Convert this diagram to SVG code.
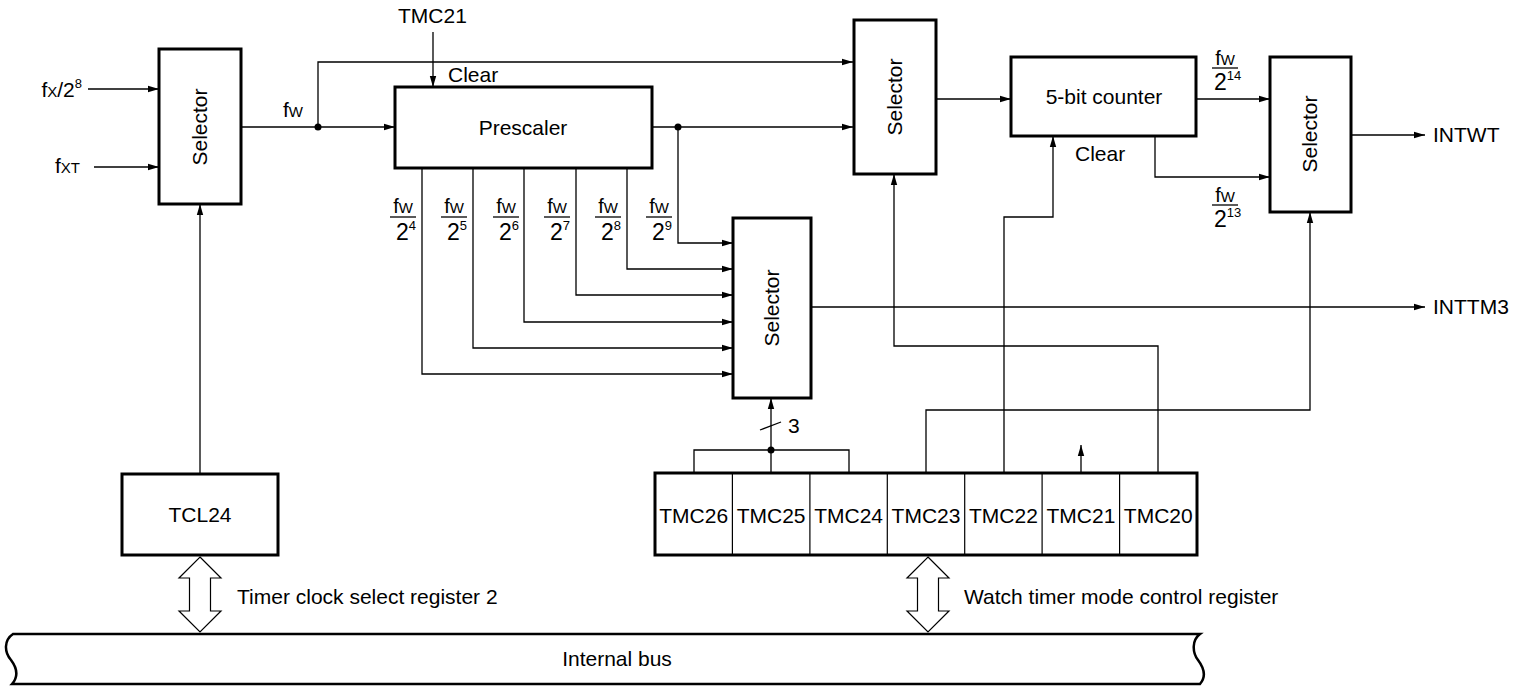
<svg xmlns="http://www.w3.org/2000/svg" width="1522" height="691" viewBox="0 0 1522 691">
<style>
text{font-family:"Liberation Sans",Arial,sans-serif;font-size:21px;fill:#000}
.box{fill:#fff;stroke:#000;stroke-width:3}
.cell{fill:none;stroke:#000;stroke-width:1.2}
.ln{fill:none;stroke:#000;stroke-width:1.3}
.arr{fill:none;stroke:#000;stroke-width:1.3;marker-end:url(#ah)}
.mid{text-anchor:middle}
.num{font-size:20px}
.den{font-size:23px}
.sup{font-size:13px}
.sm{font-size:15px}
.bar{stroke:#000;stroke-width:1.3}
</style>
<defs>
<marker id="ah" markerUnits="userSpaceOnUse" markerWidth="12" markerHeight="8" refX="11" refY="4" orient="auto">
<path d="M0,0.8 L11,4 L0,7.2 z" fill="#000"/>
</marker>
</defs>

<g id="connectors">
<line class="arr" x1="88" y1="89" x2="159" y2="89"/>
<line class="arr" x1="94" y1="167" x2="159" y2="167"/>
<line class="arr" x1="241" y1="127" x2="395" y2="127"/>
<polyline class="arr" points="318,127 318,62 853,62"/>
<line class="arr" x1="433" y1="32" x2="433" y2="87"/>
<line class="arr" x1="652" y1="127" x2="853" y2="127"/>
<polyline class="arr" points="678,127 678,243 733,243"/>
<polyline class="arr" points="627,168 627,269 733,269"/>
<polyline class="arr" points="576,168 576,295 733,295"/>
<polyline class="arr" points="524,168 524,322 733,322"/>
<polyline class="arr" points="473,168 473,348 733,348"/>
<polyline class="arr" points="422,168 422,374 733,374"/>
<line class="arr" x1="811" y1="307" x2="1425" y2="307"/>
<line class="arr" x1="936" y1="99" x2="1011" y2="99"/>
<line class="arr" x1="1196" y1="99" x2="1270" y2="99"/>
<polyline class="arr" points="1155,136 1155,177 1270,177"/>
<line class="arr" x1="1351" y1="135" x2="1425" y2="135"/>
<line class="arr" x1="200" y1="474" x2="200" y2="204"/>
<polyline class="ln" points="694,473 694,450 849,450 849,473"/>
<line class="ln" x1="771" y1="473" x2="771" y2="450"/>
<line class="arr" x1="771" y1="450" x2="771" y2="398"/>
<line class="ln" x1="760" y1="430" x2="781" y2="422"/>
<polyline class="arr" points="926,473 926,410 1310,410 1310,212"/>
<polyline class="arr" points="1004,473 1004,217 1053,217 1053,136"/>
<line class="arr" x1="1081" y1="473" x2="1081" y2="445"/>
<polyline class="arr" points="1158,473 1158,346 894,346 894,174"/>
<circle cx="318" cy="127" r="3.5" fill="#000"/>
<circle cx="678" cy="127" r="3.5" fill="#000"/>
<circle cx="771" cy="450" r="3.5" fill="#000"/>
</g>

<g id="labels">
<text x="82" y="97" text-anchor="end">f<tspan class="sm">X</tspan>/2<tspan class="sup" dy="-9">8</tspan></text>
<text x="80" y="173" text-anchor="end">f<tspan class="sm">XT</tspan></text>
<text x="283" y="117">f<tspan class="sm">W</tspan></text>
<text x="398" y="23">TMC21</text>
<text x="448" y="82">Clear</text>
<text x="1075" y="161">Clear</text>
<text x="788" y="433">3</text>
<text x="1433" y="142">INTWT</text>
<text x="1433" y="314">INTTM3</text>
<text x="237" y="604">Timer clock select register 2</text>
<text x="964" y="604">Watch timer mode control register</text>
</g>

<g id="fractions">
<g id="f4"><text class="num mid" x="403" y="213">f<tspan class="sm">W</tspan></text><line class="bar" x1="390" y1="217" x2="416" y2="217"/><text class="den" x="396" y="240">2<tspan class="sup" dy="-10">4</tspan></text></g>
<g id="f5"><text class="num mid" x="454" y="213">f<tspan class="sm">W</tspan></text><line class="bar" x1="441" y1="217" x2="467" y2="217"/><text class="den" x="447" y="240">2<tspan class="sup" dy="-10">5</tspan></text></g>
<g id="f6"><text class="num mid" x="506" y="213">f<tspan class="sm">W</tspan></text><line class="bar" x1="493" y1="217" x2="519" y2="217"/><text class="den" x="499" y="240">2<tspan class="sup" dy="-10">6</tspan></text></g>
<g id="f7"><text class="num mid" x="557" y="213">f<tspan class="sm">W</tspan></text><line class="bar" x1="544" y1="217" x2="570" y2="217"/><text class="den" x="550" y="240">2<tspan class="sup" dy="-10">7</tspan></text></g>
<g id="f8"><text class="num mid" x="608" y="213">f<tspan class="sm">W</tspan></text><line class="bar" x1="595" y1="217" x2="621" y2="217"/><text class="den" x="601" y="240">2<tspan class="sup" dy="-10">8</tspan></text></g>
<g id="f9"><text class="num mid" x="659" y="213">f<tspan class="sm">W</tspan></text><line class="bar" x1="646" y1="217" x2="672" y2="217"/><text class="den" x="652" y="240">2<tspan class="sup" dy="-10">9</tspan></text></g>
<g id="f14"><text class="num mid" x="1225" y="65">f<tspan class="sm">W</tspan></text><line class="bar" x1="1212" y1="68" x2="1238" y2="68"/><text class="den" x="1214" y="90">2<tspan class="sup" dy="-10">14</tspan></text></g>
<g id="f13"><text class="num mid" x="1225" y="202">f<tspan class="sm">W</tspan></text><line class="bar" x1="1212" y1="205" x2="1238" y2="205"/><text class="den" x="1214" y="227">2<tspan class="sup" dy="-10">13</tspan></text></g>
</g>

<g id="selector1">
<rect class="box" x="159" y="49" width="82" height="155"/>
<text class="mid" transform="translate(200,127) rotate(-90)" dy="7">Selector</text>
</g>
<g id="prescaler">
<rect class="box" x="395" y="87" width="257" height="81"/>
<text class="mid" x="523" y="135">Prescaler</text>
</g>
<g id="selector2">
<rect class="box" x="854" y="20" width="82" height="154"/>
<text class="mid" transform="translate(895,97) rotate(-90)" dy="7">Selector</text>
</g>
<g id="counter">
<rect class="box" x="1011" y="57" width="185" height="79"/>
<text class="mid" x="1104" y="104">5-bit counter</text>
</g>
<g id="selector3">
<rect class="box" x="1270" y="57" width="81" height="155"/>
<text class="mid" transform="translate(1310,134) rotate(-90)" dy="7">Selector</text>
</g>
<g id="selectorMid">
<rect class="box" x="733" y="218" width="78" height="180"/>
<text class="mid" transform="translate(772,308) rotate(-90)" dy="7">Selector</text>
</g>
<g id="tcl24">
<rect class="box" x="122" y="474" width="156" height="81"/>
<text class="mid" x="200" y="522">TCL24</text>
</g>
<g id="tmc2">
<rect class="box" x="655" y="473" width="542" height="82"/>
<line class="cell" x1="732.4" y1="473" x2="732.4" y2="555"/>
<line class="cell" x1="809.9" y1="473" x2="809.9" y2="555"/>
<line class="cell" x1="887.3" y1="473" x2="887.3" y2="555"/>
<line class="cell" x1="964.7" y1="473" x2="964.7" y2="555"/>
<line class="cell" x1="1042.1" y1="473" x2="1042.1" y2="555"/>
<line class="cell" x1="1119.6" y1="473" x2="1119.6" y2="555"/>
<text class="mid" x="693.7" y="523">TMC26</text>
<text class="mid" x="771.1" y="523">TMC25</text>
<text class="mid" x="848.6" y="523">TMC24</text>
<text class="mid" x="926" y="523">TMC23</text>
<text class="mid" x="1003.4" y="523">TMC22</text>
<text class="mid" x="1080.9" y="523">TMC21</text>
<text class="mid" x="1158.3" y="523">TMC20</text>
</g>
<g id="bus">
<path d="M13,634 L1200,634 C1192,640 1192,652 1198,660 C1204,668 1207,676 1200,684 L12,684 C19,676 17,668 11,660 C4,652 4,640 13,634 Z" fill="#fff" stroke="#000" stroke-width="2.5"/>
<text class="mid" x="617" y="666">Internal bus</text>
</g>
<g id="busarrows">
<polygon points="200,557 221,578 210.5,578 210.5,611 221,611 200,632 179,611 189.5,611 189.5,578 179,578" fill="#fff" stroke="#000" stroke-width="1.2"/>
<polygon points="928,557 949,578 938.5,578 938.5,611 949,611 928,632 907,611 917.5,611 917.5,578 907,578" fill="#fff" stroke="#000" stroke-width="1.2"/>
</g>
</svg>
